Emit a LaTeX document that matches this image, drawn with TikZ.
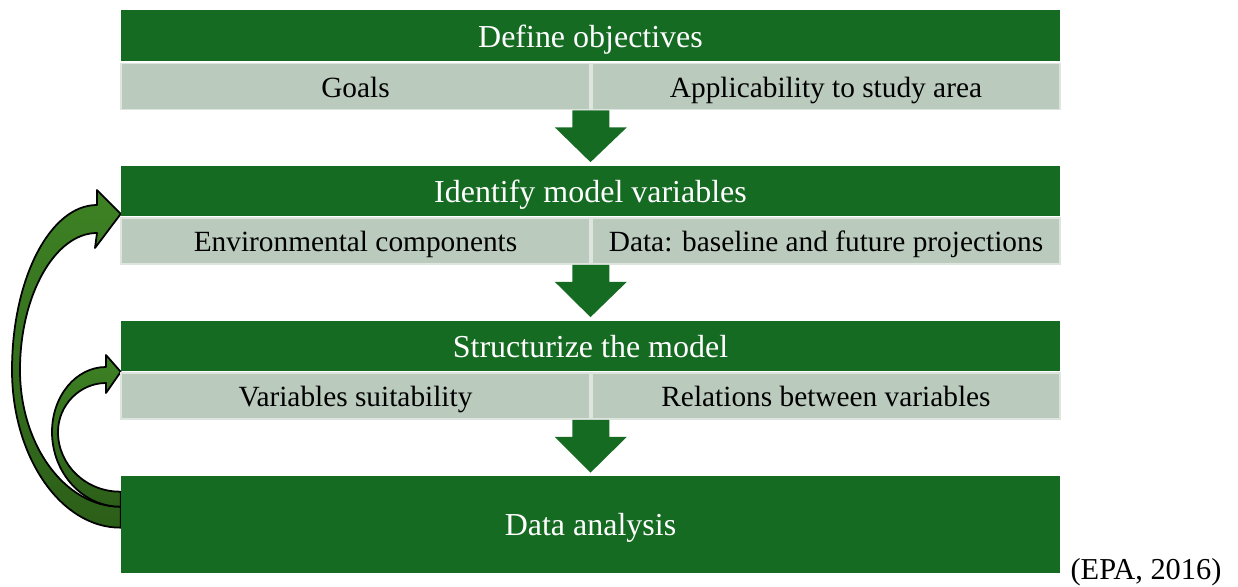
\documentclass[tikz,border=0pt]{standalone}
\usepackage{fontspec}
\setmainfont{Liberation Serif}
\usetikzlibrary{calc,backgrounds}

\definecolor{boxgreen}{RGB}{22,107,35}
\definecolor{subfill}{RGB}{186,203,189}
\definecolor{subedge}{RGB}{222,229,223}
\definecolor{looptop}{RGB}{62,130,36}
\definecolor{loopbot}{RGB}{44,94,24}

% block arrow pointing down from one step to the next
\newcommand{\blockdown}[2]{%
  \fill[boxgreen] ($(#1)+(-18.5,0)$) -- ($(#1)+(18.5,0)$) -- ($(#1)+(18.5,17)$)
    -- ($(#1)+(36,17)$) -- ($(#2)+(0,-3)$) -- ($(#1)+(-36,17)$)
    -- ($(#1)+(-18.5,17)$) -- cycle;}

\tikzset{
  steptext/.style={inner sep=0pt, text height=14.9pt, text depth=2.4pt,
    font=\fontsize{16.7}{20}\selectfont},
  stephead/.style={steptext, fill=boxgreen, text=white, minimum width=18.78cm,
    minimum height=1.02cm, text height=15.6pt, text depth=2.6pt,
    font=\fontsize{18.2}{22}\selectfont},
  stepsub/.style={steptext, fill=subfill, draw=subedge, line width=1pt, text=black,
    minimum height=0.92cm},
  backarrow/.style={draw=black, line width=1pt, line join=round,
    top color=looptop, bottom color=loopbot}
}

\begin{document}
\begin{tikzpicture}[x=0.02cm, y=-0.02cm]
  \useasboundingbox (0,0) rectangle (1238,587);

  % step 1
  \node[stephead] (h1) at (590.5,36) {Define objectives};
  \node[stepsub, minimum width=9.38cm] (l1) at (355.5,86.5) {Goals};
  \node[stepsub, minimum width=9.36cm] (r1) at (826,86.5) {Applicability to study area};

  % step 2
  \node[stephead] (h2) at (590.5,191) {Identify model variables};
  \node[stepsub, minimum width=9.38cm] (l2) at (355.5,241) {Environmental components};
  \node[stepsub, minimum width=9.36cm] (r2) at (826,241) {Data: baseline and future projections};

  % step 3
  \node[stephead] (h3) at (590.5,346) {Structurize the model};
  \node[stepsub, minimum width=9.38cm] (l3) at (355.5,396) {Variables suitability};
  \node[stepsub, minimum width=9.36cm] (r3) at (826,396) {Relations between variables};

  % step 4
  \node[stephead, minimum height=1.94cm] (h4) at (590.5,524.5) {Data analysis};

  \node[anchor=base, font=\fontsize{17.3}{20}\selectfont] (src) at (1146,580) {(EPA, 2016)};

  \blockdown{l1.south east}{h2.north}
  \blockdown{l2.south east}{h3.north}
  \blockdown{l3.south east}{h4.north}

  \begin{scope}[on background layer]
    % long loop back to step 2
    \path[backarrow] ($(h4.north west)+(0,52)$)
      .. controls (61,528) and (12,457) .. (12,370)
      .. controls (12,279) and (50,205) .. (97,205)
      -- (97,190) -- ($(h2.south west)+(0,-3)$) -- (95,248) -- (97,233)
      .. controls (55,233) and (20,295) .. (20,370)
      .. controls (20,445) and (65,507) .. ($(h4.north west)+(0,31)$) -- cycle;
    % short loop back to step 3
    \path[backarrow] ($(h4.north west)+(0,31)$)
      .. controls (83,507) and (52,473) .. (52,432)
      .. controls (52,396) and (76,367) .. (106,367)
      -- (106,355) -- (h3.south west) -- (106,393) -- (106,383)
      .. controls (80,383) and (58,405) .. (58,432)
      .. controls (58,465) and (86,492) .. ($(h4.north west)+(0,16)$) -- cycle;
  \end{scope}
\end{tikzpicture}
\end{document}
